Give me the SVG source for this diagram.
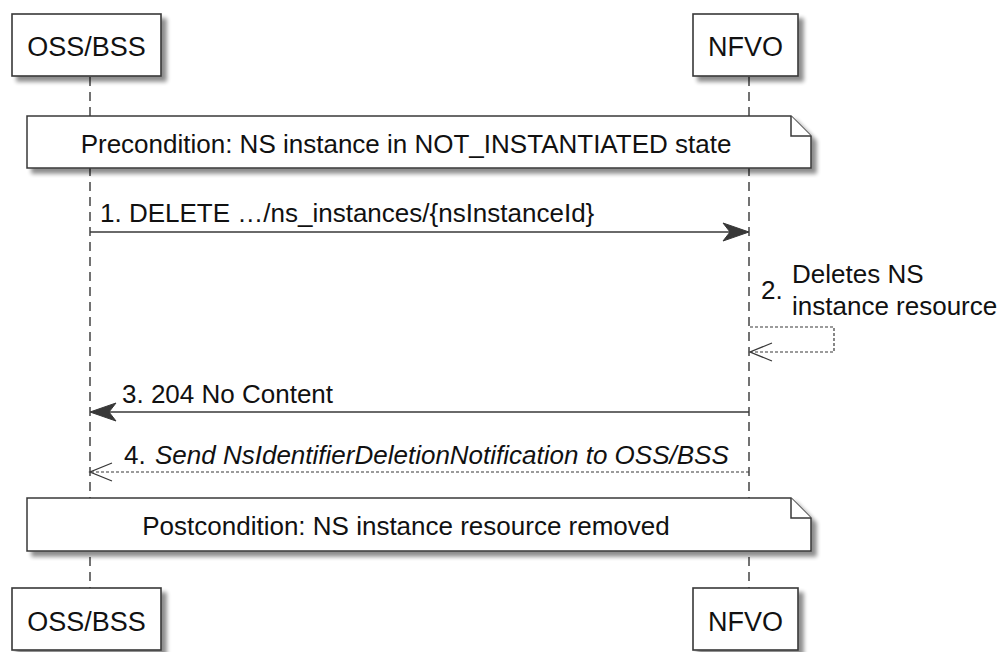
<svg xmlns="http://www.w3.org/2000/svg" width="999" height="652" viewBox="0 0 999 652">
<defs>
<filter id="sh" x="-10%" y="-10%" width="130%" height="150%">
<feGaussianBlur in="SourceAlpha" stdDeviation="2.2"/>
<feOffset dx="5" dy="5" result="b"/>
<feComponentTransfer><feFuncA type="linear" slope="0.45"/></feComponentTransfer>
<feMerge><feMergeNode/><feMergeNode in="SourceGraphic"/></feMerge>
</filter>
</defs>
<style>
.box{fill:#fff;stroke:#383838;stroke-width:1.6}
.note{fill:#fff;stroke:#383838;stroke-width:1.5}
.life{stroke:#444;stroke-width:1.5;stroke-dasharray:9,6;fill:none}
.msg{stroke:#383838;stroke-width:1.3;fill:none}
.dash{stroke:#383838;stroke-width:1.2;fill:none;stroke-dasharray:3,2}
.head{fill:#383838;stroke:#383838;stroke-width:1}
.open{stroke:#383838;stroke-width:1.3;fill:none}
text{font-family:"Liberation Sans",Arial,sans-serif;fill:#111}
.pt{font-size:27px;text-anchor:middle}
.mt{font-size:26px}
.nt{font-size:26px;text-anchor:middle}
.it{font-style:italic}
</style>
<g id="lifelines">
<line class="life" x1="90" y1="77" x2="90" y2="588"/>
<line class="life" x1="749" y1="77" x2="749" y2="588"/>
</g>
<g id="oss-top"><rect class="box" x="12" y="14" width="149" height="62" filter="url(#sh)"/><text class="pt" x="86.5" y="56">OSS/BSS</text></g>
<g id="nfvo-top"><rect class="box" x="693" y="14" width="105" height="62" filter="url(#sh)"/><text class="pt" x="745.5" y="56">NFVO</text></g>
<g id="oss-bottom"><rect class="box" x="12" y="588" width="149" height="62" filter="url(#sh)"/><text class="pt" x="86.5" y="631">OSS/BSS</text></g>
<g id="nfvo-bottom"><rect class="box" x="693" y="588" width="105" height="62" filter="url(#sh)"/><text class="pt" x="745.5" y="631">NFVO</text></g>
<g id="pre-note">
<path class="note" d="M27,116 H791 L811,136 V168 H27 Z" filter="url(#sh)"/>
<path class="note" d="M791,116 V136 H811"/>
<text class="nt" x="406" y="153">Precondition: NS instance in NOT_INSTANTIATED state</text>
</g>
<g id="post-note">
<path class="note" d="M27,498 H791 L811,518 V551 H27 Z" filter="url(#sh)"/>
<path class="note" d="M791,498 V518 H811"/>
<text class="nt" x="406" y="535">Postcondition: NS instance resource removed</text>
</g>
<g id="connectors">
<line class="msg" x1="90" y1="232" x2="745" y2="232"/>
<polygon class="head" points="749,232 723,223 730,232 723,241"/>
<text class="mt" x="100" y="222">1. DELETE …/ns_instances/{nsInstanceId}</text>

<polyline class="dash" points="750,327 834,327 834,352 751,352"/>
<polyline class="open" points="772,343 750,352 772,361"/>
<text class="mt" x="761" y="299">2.</text>
<text class="mt" x="792" y="283">Deletes NS</text>
<text class="mt" x="792" y="315">instance resource</text>

<line class="msg" x1="94" y1="412" x2="749" y2="412"/>
<polygon class="head" points="90,412 116,403 109,412 116,421"/>
<text class="mt" x="122" y="403">3. 204 No Content</text>

<line class="dash" x1="91" y1="472" x2="749" y2="472"/>
<polyline class="open" points="112,463 90,472 112,481"/>
<text class="mt" x="124" y="464">4. <tspan class="it" x="155">Send NsIdentifierDeletionNotification to OSS/BSS</tspan></text>
</g>
</svg>
